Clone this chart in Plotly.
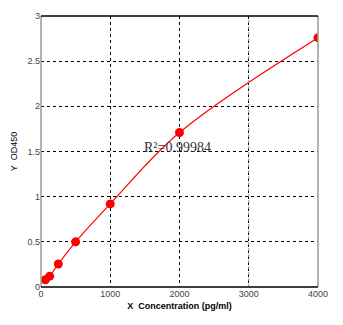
import plotly.graph_objects as go

conc = [62.5, 125, 250, 500, 1000, 2000, 4000]
od = [0.08, 0.12, 0.255, 0.5, 0.92, 1.71, 2.76]
x_ticks = [0, 1000, 2000, 3000, 4000]
y_ticks = [0, 0.5, 1, 1.5, 2, 2.5, 3]
r2_label = "R²=0.99984"

fig = go.Figure()
fig.add_trace(go.Scatter(
    x=conc, y=od, mode="lines+markers",
    line=dict(color="#ff0000", width=1.2, shape="spline"),
    marker=dict(color="#ff0000", size=9, symbol="circle"),
    showlegend=False, hoverinfo="skip"))

fig.add_annotation(x=1970, y=1.54, text=r2_label, showarrow=False,
                   font=dict(family="Liberation Serif", size=14, color="#333333"),
                   xanchor="center", yanchor="middle")

axis_common = dict(showgrid=True, gridcolor="#000000", griddash="3px,3px", gridwidth=1,
                   zeroline=False, showline=False, ticks="",
                   tickfont=dict(family="Liberation Sans", size=9, color="#444444"))
fig.update_xaxes(range=[0, 4000], tickvals=x_ticks, ticktext=[str(v) for v in x_ticks],
                 title=dict(text="<b>X  Concentration (pg/ml)</b>", standoff=4,
                            font=dict(family="Liberation Sans", size=9, color="#000000")),
                 **axis_common)
fig.update_yaxes(range=[0, 3], tickvals=y_ticks, ticktext=[str(v) for v in y_ticks],
                 title=dict(text="Y  OD450", standoff=8,
                            font=dict(family="Liberation Sans", size=9, color="#000000")),
                 **axis_common)

# grey vertical grid at 3000
fig.add_shape(type="line", xref="x", yref="paper", x0=x_ticks[3], x1=x_ticks[3], y0=0, y1=1,
              line=dict(color="#999999", width=1, dash="3px,3px"), layer="above")
# frame
fig.add_shape(type="line", xref="paper", yref="paper", x0=0, x1=0, y0=0, y1=1,
              line=dict(color="#999999", width=1.5))
fig.add_shape(type="line", xref="paper", yref="paper", x0=1, x1=1, y0=0, y1=1,
              line=dict(color="#999999", width=1.5))
fig.add_shape(type="line", xref="paper", yref="paper", x0=0, x1=1, y0=1, y1=1,
              line=dict(color="#000000", width=1.5))
fig.add_shape(type="line", xref="paper", yref="paper", x0=0, x1=1, y0=0, y1=0,
              line=dict(color="#000000", width=1.5))

fig.update_layout(width=343, height=325, margin=dict(l=41, r=25, t=16, b=38),
                  plot_bgcolor="white", paper_bgcolor="white")
fig.write_html("out.html")
